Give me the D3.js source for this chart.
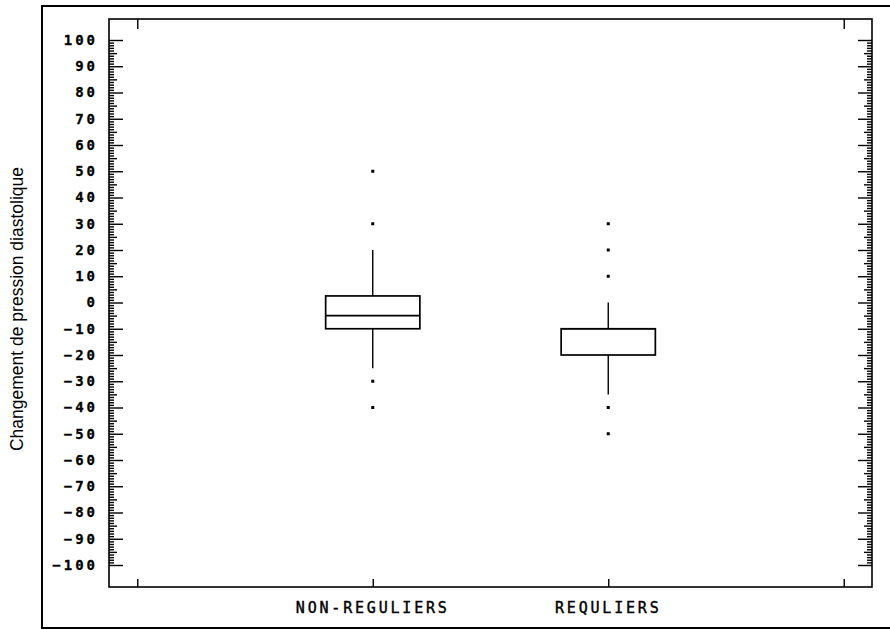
<!DOCTYPE html>
<html>
<head>
<meta charset="utf-8">
<script src="https://cdn.jsdelivr.net/npm/d3@7"></script>
<style>
  body { margin: 0; background: #fff; }
  svg { display: block; }
  .lbl { font-family: "DejaVu Sans Mono", monospace; font-weight: bold; }
</style>
</head>
<body>
<svg id="chart" width="890" height="630"></svg>
<script>
// data
const categories = ["NON-REGULIERS", "REQULIERS"];
const catPos = [2, 3];
const q1 = [-10, -20];
const median = [-5, -10];
const q3 = [2.5, -10];
const whiskLow = [-25, -35];
const whiskHigh = [20, 0];
const outliers = [[50, 30, -30, -40], [30, 20, 10, -40, -50]];
const yTicks = d3.range(-100, 101, 10);
const xEndTicks = [1, 4];

var svg = d3.select("#chart");
var pL = 109, pR = 872, pT = 19, pB = 587;

var x = d3.scaleLinear().domain([0.88, 4.12]).range([pL, pR]);
var y = d3.scaleLinear().domain([-100, 100]).range([565, 40]);

// outer frame
svg.append("rect")
  .attr("x", 42).attr("y", 6).attr("width", 852).attr("height", 622)
  .attr("fill", "none").attr("stroke", "#000").attr("stroke-width", 2);

// plot frame
svg.append("rect")
  .attr("x", pL).attr("y", pT).attr("width", pR - pL).attr("height", pB - pT)
  .attr("fill", "none").attr("stroke", "#000").attr("stroke-width", 1.6);

function tickSet(axisFn, xpos, values, size) {
  var g = svg.append("g")
    .attr("transform", `translate(${xpos},0)`)
    .call(axisFn(y).tickValues(values).tickSize(size).tickSizeOuter(0).tickFormat(""));
  g.select(".domain").remove();
  g.selectAll("line").attr("stroke", "#000").attr("stroke-width", 1.4);
}

var minor = d3.range(-100, 101, 1).filter(d => d % 5 !== 0);
var mid = d3.range(-95, 100, 10);
tickSet(d3.axisRight, pL, minor, 5);
tickSet(d3.axisRight, pL, mid, 8);
tickSet(d3.axisRight, pL, yTicks, 14);
tickSet(d3.axisLeft, pR, minor, 5);
tickSet(d3.axisLeft, pR, mid, 8);
tickSet(d3.axisLeft, pR, yTicks, 14);

// y labels
var yl = svg.append("g")
  .attr("transform", `translate(${pL},0)`)
  .call(d3.axisLeft(y).tickValues(yTicks).tickSize(0).tickPadding(11));
yl.select(".domain").remove();
yl.selectAll("text")
  .attr("class", "lbl")
  .style("font-size", "14px")
  .style("letter-spacing", "3px")
  .attr("stroke", "#000").attr("stroke-width", 0.3)
  .attr("fill", "#000");

// x ticks
var xb = svg.append("g")
  .attr("transform", `translate(0,${pB})`)
  .call(d3.axisTop(x).tickValues(xEndTicks.concat(catPos)).tickSize(8).tickSizeOuter(0).tickFormat(""));
xb.select(".domain").remove();
xb.selectAll("line").attr("stroke", "#000").attr("stroke-width", 1.4);

var xt = svg.append("g")
  .attr("transform", `translate(0,${pT})`)
  .call(d3.axisBottom(x).tickValues(xEndTicks).tickSize(10).tickSizeOuter(0).tickFormat(""));
xt.select(".domain").remove();
xt.selectAll("line").attr("stroke", "#000").attr("stroke-width", 1.4);

// category labels
svg.selectAll(".cat")
  .data(categories)
  .enter().append("text")
  .attr("class", "lbl cat")
  .attr("x", (d, i) => x(catPos[i]))
  .attr("y", 613)
  .attr("text-anchor", "middle")
  .style("font-size", "15px")
  .style("font-weight", "normal")
  .style("letter-spacing", "2.8px")
  .attr("stroke", "#000").attr("stroke-width", 0.4)
  .text(d => d);

// boxes
var bw = 0.4;
var boxes = svg.selectAll(".box")
  .data(categories)
  .enter().append("g")
  .attr("class", "box");

boxes.append("line")
  .attr("x1", (d, i) => x(catPos[i])).attr("x2", (d, i) => x(catPos[i]))
  .attr("y1", (d, i) => y(whiskHigh[i])).attr("y2", (d, i) => y(q3[i]))
  .attr("stroke", "#000").attr("stroke-width", 1.4);
boxes.append("line")
  .attr("x1", (d, i) => x(catPos[i])).attr("x2", (d, i) => x(catPos[i]))
  .attr("y1", (d, i) => y(q1[i])).attr("y2", (d, i) => y(whiskLow[i]))
  .attr("stroke", "#000").attr("stroke-width", 1.4);
boxes.append("rect")
  .attr("x", (d, i) => x(catPos[i] - bw / 2))
  .attr("width", x(bw) - x(0))
  .attr("y", (d, i) => y(q3[i]))
  .attr("height", (d, i) => y(q1[i]) - y(q3[i]))
  .attr("fill", "none").attr("stroke", "#000").attr("stroke-width", 1.7);
boxes.append("line")
  .attr("x1", (d, i) => x(catPos[i] - bw / 2)).attr("x2", (d, i) => x(catPos[i] + bw / 2))
  .attr("y1", (d, i) => y(median[i])).attr("y2", (d, i) => y(median[i]))
  .attr("stroke", "#000").attr("stroke-width", 1.7);

boxes.each(function(d, i) {
  d3.select(this).selectAll("rect.out")
    .data(outliers[i])
    .enter().append("rect")
    .attr("class", "out")
    .attr("x", x(catPos[i]) - 1.5)
    .attr("y", v => y(v) - 1.5)
    .attr("width", 3).attr("height", 3)
    .attr("fill", "#000");
});

// y title
svg.append("text")
  .attr("transform", "translate(23,309) rotate(-90)")
  .attr("text-anchor", "middle")
  .style("font-family", "'Liberation Sans', Arial, sans-serif")
  .style("font-size", "17.5px")
  .text("Changement de pression diastolique");
</script>
</body>
</html>
